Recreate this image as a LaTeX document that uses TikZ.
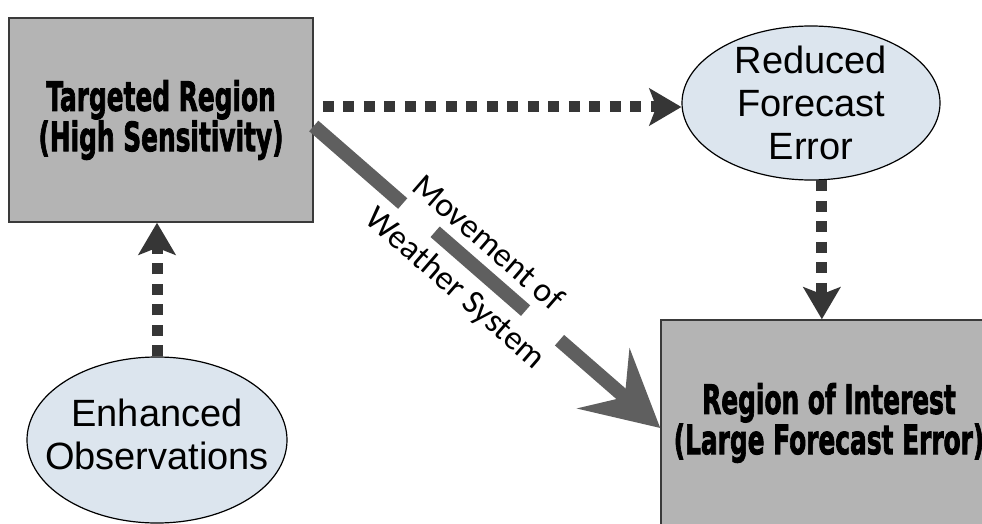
\documentclass[tikz,border=0pt]{standalone}
\usepackage{fontspec}
\usepackage{graphicx}
\setmainfont{Liberation Sans}
\newfontfamily\calibfont{Carlito}
\newfontfamily\heavyfont{DejaVu Sans Bold}[FakeBold=2.5]
\usetikzlibrary{shapes.geometric,arrows.meta}
\definecolor{boxfill}{HTML}{B4B4B4}
\definecolor{boxline}{HTML}{3A3A3A}
\definecolor{ellfill}{HTML}{DCE5EE}
\definecolor{dashcol}{HTML}{363636}
\definecolor{bigcol}{HTML}{5F5F5F}
\newcommand\impsq[1]{\scalebox{0.69}[1.12]{#1}}
\tikzset{
  regionbox/.style={draw=boxline, fill=boxfill, line width=1.5pt, rectangle, inner sep=0pt,
    align=center, font=\heavyfont\fontsize{36}{37}\selectfont},
  ellbox/.style={draw=black, fill=ellfill, line width=1.2pt, ellipse, inner sep=0pt},
  elltext/.style={align=center, inner sep=0pt, font=\fontsize{38}{43}\selectfont},
  dotarrow/.style={draw=dashcol, line width=11pt, dash pattern=on 11pt off 9.5pt,
    -{Stealth[length=32pt,width=37pt,inset=7pt,fill=dashcol]}},
  bigarrow/.style={draw=bigcol, line width=14pt,
    dash pattern=on 118pt off 43pt on 120pt off 45pt on 800pt,
    -{Stealth[length=75pt,width=79pt,inset=28pt,fill=bigcol]}},
  movetext/.style={inner sep=0pt, font=\calibfont\fontsize{34}{40}\selectfont}
}
\begin{document}
\begin{tikzpicture}[x=1pt,y=-1pt]
\useasboundingbox (0,0) rectangle (982,524);
\clip (0,0) rectangle (982,524);
\fill[white] (0,0) rectangle (982,524);
% nodes
\node[regionbox, minimum width=304pt, minimum height=204pt] (tr) at (161,120)
  {\impsq{Targeted Region}\\\impsq{(High Sensitivity)}};
\node[regionbox, minimum width=336pt, minimum height=206pt] (rg) at (829,423)
  {\impsq{Region of Interest}\\\impsq{(Large Forecast Error)}};
\node[ellbox, minimum width=258pt, minimum height=154pt] (re) at (811,103) {};
\node[elltext] (ret) at (re) {Reduced\\Forecast\\Error};
\node[ellbox, minimum width=260pt, minimum height=166pt] (en) at (157,440) {};
\node[elltext] (ent) at ([yshift=6pt]en.center) {Enhanced\\Observations};
% connectors
\draw[dotarrow] ([xshift=9pt,yshift=13pt]tr.east) -- ([yshift=-4pt]re.west);
\draw[dotarrow] (re.-82) -- (re.-82 |- rg.north);
\draw[dotarrow] (en.north) -- (en.north |- tr.south);
\draw[bigarrow] ([yshift=-6pt]tr.east) -- ([yshift=-5pt]rg.west);
\node[movetext, rotate=-41] (mv) at (489,242) {Movement of};
\node[movetext, rotate=-41] (ws) at (455,289) {Weather System};
\end{tikzpicture}
\end{document}
